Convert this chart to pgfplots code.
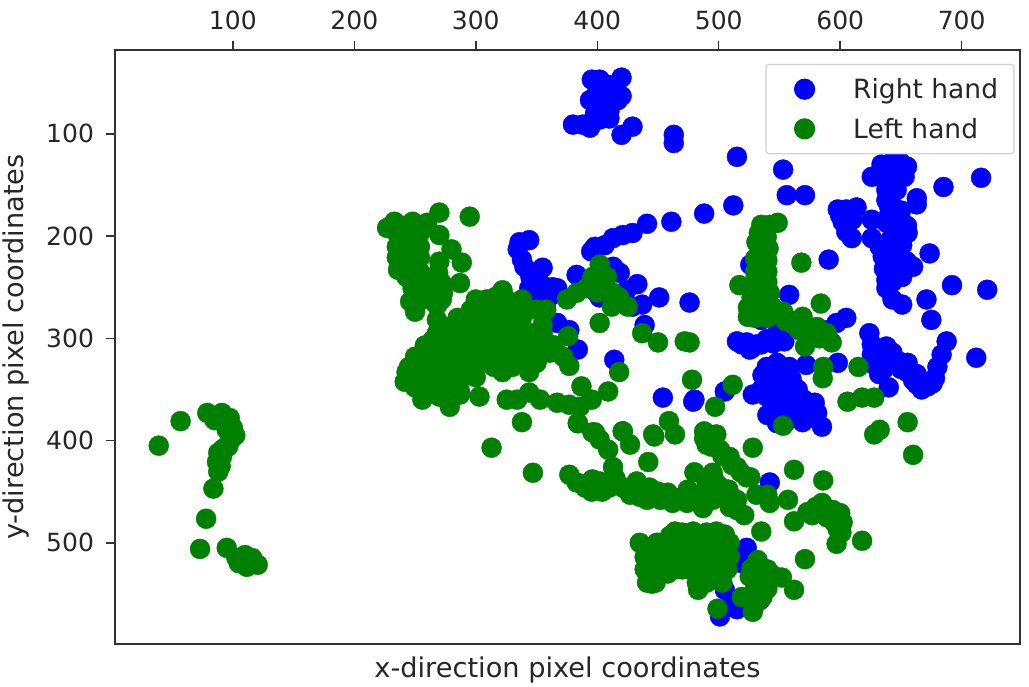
\documentclass[border=0pt]{standalone}
\usepackage{fontspec}
\setmainfont{DejaVu Sans}
\usepackage{pgfplots}
\pgfplotsset{compat=1.18}
\definecolor{txt}{HTML}{262626}
\definecolor{grn}{HTML}{008000}
\begin{document}
\begin{tikzpicture}
\useasboundingbox (-115pt,-43pt) rectangle (914pt,644pt);
\begin{axis}[
  scale only axis, width=905pt, height=594pt,
  xmin=3, xmax=748, ymin=18, ymax=599, y dir=reverse,
  xticklabel pos=upper,
  xtick={100,200,300,400,500,600,700},
  ytick={100,200,300,400,500},
  tick align=outside, major tick length=8.5pt,
  axis line style={line width=1.5pt,color=black!80},
  every tick/.style={line width=1.5pt,color=black!80},
  tick label style={font=\fontsize{25}{28}\selectfont,text=txt},
  xticklabel style={yshift=8pt},
  yticklabel style={xshift=-9pt},
  /pgf/number format/assume math mode=true,
  xtick pos=upper, ytick pos=left,
  xlabel={x-direction pixel coordinates},
  ylabel={y-direction pixel coordinates},
  label style={font=\fontsize{27.2}{30}\selectfont,text=txt},
  xlabel style={at={(axis description cs:0.5,0)},anchor=north,yshift=-9pt},
  ylabel style={at={(axis description cs:0,0.5)},anchor=south,yshift=82pt},
  legend style={at={(axis cs:743.6,31.5)},anchor=north east,rounded corners=3pt,
    draw=black!18,line width=1.2pt,fill=white,
    font=\fontsize{26.5}{28}\selectfont,text=txt,inner xsep=14pt,inner ysep=12pt,
    row sep=14pt,legend cell align=left},
  legend image code/.code={\path (-24pt,0pt) (46pt,0pt);
    \draw[#1] plot coordinates {(0pt,0pt)};},
  clip=true,
]
\addplot[only marks,mark=*,mark size=10pt,color=blue,mark options={draw=none,fill=blue}] coordinates {
(395.5,47)(402,47)(420,45)(400,59)(408.6,52)(417,67)(420,63)(394,67)(402,67)(408.6,63)(406,77)(398,81)(388,91)(380,91)(394,94)(402,86)(420,101)(429,93)(463,101)(463,109)
(405,65)(412,60)(412,70)(402,75)(410,78)(400,85)(395,90)(410,85)
(515,122.5)(553,135)(556,160)(571,160)(512,170)(488,178)(590.5,223)(526,228)
(461,186)(441,188)(429,197)(421,199)(413,202)(406,209)(398,210.5)(395,215)
(336,206)(344,204)(334.5,213)(338,223)(340,230)(355,231)(344,251)(353,246)(363,250)(367,251)(343,262)(353,259)(361,259)(383,238)(350,240)(345,240)(345,265)(358,265)
(413,230)(418.5,236)(424,253)(399.5,255.5)(402,260)(433,247)(437,267)(429,269)(451,260)(476,265)(439,287)(367,285)(377,292)(384,311)(414,321)(454,358)(479,362)
(515,303)(523,304)(531,306)(539.5,301)(548,295)(554,303)(525.5,311)(558,257.5)(535,282)(605,280)(597,285)(589,292)(519,306)(527,310)(535,306)(545,305)
(539.5,328)(548,324)(558,328)(572,326)(598,324)(536,336)(553,336)(544,343.5)(558,347)(528,355)(539.5,357)(550,357)(561,357)(505,352)(480,360)(564,368)(579,363)(556,367)(572,373)(548,383)(569,382)(585,386.5)(581,373)
(545,335)(560,340)(565,350)(535,350)(570,360)(545,365)(550,375)(540,375)(560,375)(555,382)(575,378)(578,370)
(634,130)(642,128)(649,127)(655,132)(626,142)(632.5,142)(653,142)(638,155)(646.5,155)(663,163)(663,169)(638,165)(643,171)
(640,140)(645,145)(648,140)(640,170)(650,175)(640,180)(648,185)(655,190)(650,200)(645,208)(640,215)(645,225)(655,225)(650,230)(640,225)(636,232)(643,245)(600,180)(610,178)(605,190)
(598,174)(605,174)(613.5,172)(602,186)(610,184)(605,196)(609.5,202)(626,184)(638,187)(626,202)(632.5,210.5)(641,204)(655.5,197)(651,209)(643,216)(635,220)(660,230)(651,240)(641,235)(638,243)(638,251)(643,262)(651,267)(673.6,217)(692,248)(721,252.5)(671,262)(675,282)(685,152)(716,143)
(624,295)(626,306)(626,316)(628,326)(638,308)(643,314)(649,323)(655.5,324)(655,333)(660,341)(667,350)(672,347)(678,339)(680,328)(683.5,316)(687.6,303)(640,348)(712,319)
(631,318)(632,335)(636,330)(650,330)(663,345)(676,344)(663,335)
(542,441)(523,505)(519,520)(505,546)(511.5,556)(515,565)(501,572)(534,556)
};
\addlegendentry{Right hand}
\addplot[only marks,mark=*,mark size=10pt,color=grn,mark options={draw=none,fill=grn}] coordinates {
(39,405)(57,381)(79,373)(91,373)(85,380)(97.5,378)(100,387.5)(95,389.5)(100,397)(96,406)(88,412)(87,421)(88,430.5)(84,447)(78,476.5)(73,506)(95,505)(103,515)(110,512)(116,515)(120.5,521.5)(111.5,523.5)
(102,395)(97,402)(92,408)(91,416)(90,425)(115,518)(105,520)
(227,192)(233,186)(248,186)(260,187)(270,177)(295,181)(235,197)(246,197)(254,197)(235,210.5)(246,210.5)(254,210.5)(235,221)(246,221)(254,221)(236,233)(248,235)(254,235)(270,199)(280,213)(288.5,226)(270,225)(269,236)(287,246)(272,246)(248,251)(258,252.5)(265,257.5)(273,255.5)(246,264)(250,274)(268,282)
(240,190)(241,204)(251,204)(241,216)(251,216)(241,228)(251,228)(243,240)(255,245)(262,245)(268,248)(262,262)(255,262)(268,268)(260,258)(272,262)
(322,253)(309,262)(317,259)(328,265)(339,272)(350,272)(358,272)(355,287)(334,285)(375,262)(383,255.5)(391,251)(402,228)(396,240)(408,240)(402,240)(405,250)(400,255)(415,265)(418,260)(413,255.5)(412,269)(425,269)(402,285)(376,298)(437,295)(450,304)(472,303)(418,333)(377,327)(365,311)(358,304)
(300,262)(312,262)(325,262)(338,262)(296,272)(306,272)(316,272)(326,272)(285,280)(295,280)(305,280)(315,280)(325,280)(338,280)
(268,295)(280,295)(290,295)(300,295)(310,295)(325,295)(335,295)(345,295)(355,295)
(258,307)(268,307)(278,307)(288,307)(298,307)(310,307)(320,307)(330,307)(342,307)(352,307)(365,307)
(250,318)(260,318)(270,318)(280,318)(292,318)(304,318)(316,318)(328,318)(340,318)(352,318)(372,318)
(245,328)(256,328)(268,328)(282,328)(290,328)(300,328)(315,328)(330,328)(345,328)
(250,338)(280,338)(290,338)(300,338)(250,348)(262,348)(275,348)(285,348)
(278.6,289)(292.6,289)(306,289)(320,289)(264.6,301.5)(278.6,301.5)(292.6,301.5)(306,301.5)(320,301.5)(334,301.5)
(262,314)(274.5,314)(287,314)(299,314)(311.5,314)(324,314)(336,314)(348.5,314)(361,314)
(254,324)(268,324)(281,324)(295,324)(309,324)(322,324)(336,324)(350,324)
(243,333)(260,333)(276,333)(295,333)(322,333)(344,333)(241.5,342.5)(255.5,342.5)(273,342.5)(284,342.5)
(256,352)(270,352)(287,352)(303,357)(256,360)(270,357)(278.6,367)(287,355)
(325.5,360)(334,360)(344,353)(353,360)(367,363)(377,365)(385.6,367)(338,382)(384,383)(387,347)(395.5,360)(409,352)(398,392)(421,391)(446,394)(313,407)(347,431.5)
(377,433.5)(388,443)(396,438)(395.5,450)(404,450)(402,440)(413,426)(409,409)(402,399)(396,392)(421,391)(427,404)(447,396)(464,394)(459,381)(442,421)(384,383)
(383,441)(390,446)(400,446)(410,446)(415,437)(430,447)(435,455)(450,450)(452,458)(468,456)(480,455)(495,458)(500,455)(515,468)(490,441)(480,431)(505,450)(510,455)(497,440)
(421,446)(432.5,440)(427,453)(441,458)(443,446)(458,451)(462,461)(474.5,448)(474,461)(487,466)(487,453)(495,431.5)(501,445)(509,465)(515,458)(521,473)(508,448)
(488,391)(498,394)(490,404)(501,409)(509,416)(515,426)(526,436)(531,453)(540,453)(542,461)(528,407)(562,428.6)(586,439)(557,458)(562,479)(573,470)(585,461)(594,468)(600,471)(577,473)(589,475)(602,480)(601,490)(597,501)(618,498)(571,516)(535,489)
(488,398)(494,406)(503,415)(511,424)(518,431)(523,436)(580,465)(590,472)(595,480)(598,487)(600,478)
(464,489)(479,489)(498,489)(435,500)(449,500)(461,500)(474.5,500)(487,500)(501,500)(509,500)
(447,504)(455,500)(460,493)(470,490)(490,490)(505,492)(507,510)(458,530)(470,526)(445,540)
(470,495)(485,495)(495,495)(505,495)(440,507)(455,507)(468,507)(480,507)(495,507)(505,507)
(445,520)(458,520)(470,520)(482,520)(495,520)(505,520)(443,532)(450,532)(485,532)(495,532)
(439,514)(451,514)(464,514)(476,514)(488,514)(501,514)(509,514)
(439,526)(451,526)(464,526)(476,526)(488,526)(501,526)(507,526)
(441,539)(448,539)(482,539)(490,539)(503,539)(483,546)
(532,517)(540,526)(552,534)(562,546)(525.5,533)(536,538)(519,553)(527,553)(536,553)(528,567.5)(499,564.5)(531,559)
(527,525)(535,530)(545,532)(530,545)(540,545)
(535,189)(548.5,187)(542,189)(531,206)(539.5,201)(539.5,216)(535,230)(535,243)(517,248)(531,255.5)(542,255.5)(524,270)(524,279)(535,272)(544,269)(553,274)(558,282)(569,279)(569,292)(581,289)(589,295)(571,308)(593,304)(568,226)(584,266)(586,328)(585.6,339)(615,328)(606,362)(618,358)(628,358)(655.5,382)(660,414)(632.5,389.5)(628,394)(511.5,345.5)(497,367)(553,385.5)(476,304)(478,340.5)
(533,197)(536,206)(541,212)(530,222)(540,224)(530,235)(540,235)(530,245)(540,245)(527,260)(537,262)(527,270)(535,270)(545,275)(555,283)(563,287)(572,288)(578,296)(583,300)(566,292)(574,300)(540,280)(530,280)
};
\addlegendentry{Left hand}
\end{axis}
\end{tikzpicture}
\end{document}
